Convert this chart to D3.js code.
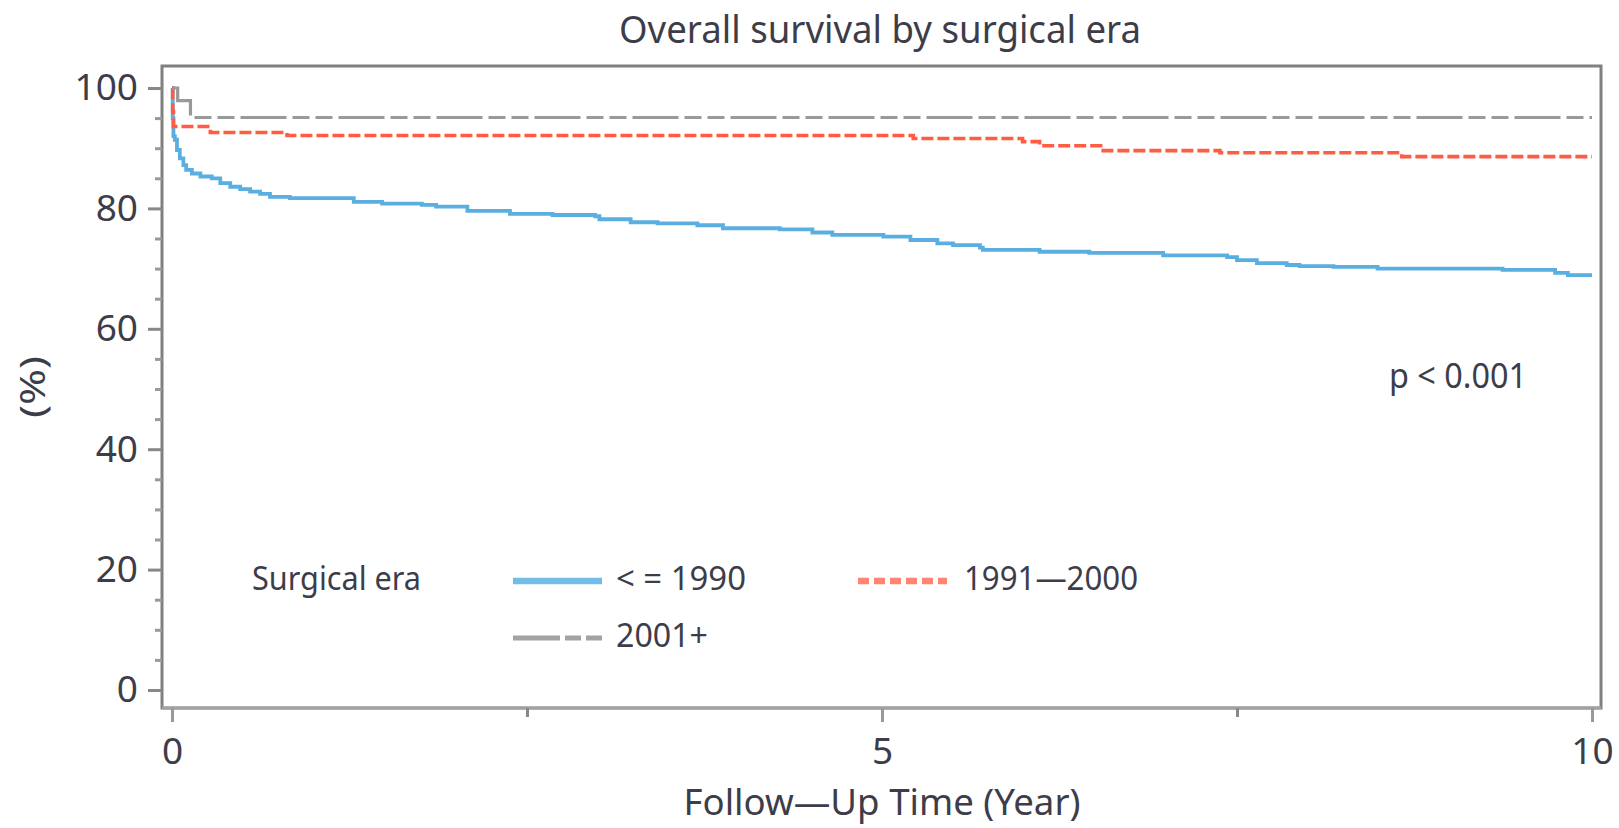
<!DOCTYPE html>
<html>
<head>
<meta charset="UTF-8">
<title>Overall survival by surgical era</title>
<script src="https://d3js.org/d3.v7.min.js"></script>
<style>
  body { margin: 0; background: #fff; }
  svg text { font-family: "Noto Sans", "Open Sans", sans-serif; fill: #3d3d4a; }
</style>
</head>
<body>
<svg id="chart" width="1619" height="828"></svg>
<script>
// survival steps (years, % alive)
const timeUpTo1990 = [0, 0.005, 0.01, 0.02, 0.035, 0.055, 0.08, 0.10, 0.14, 0.20, 0.28, 0.34, 0.41, 0.48, 0.55, 0.62, 0.69, 0.83, 1.28, 1.48, 1.76, 1.86, 2.08, 2.38, 2.68, 2.98, 3.01, 3.23, 3.42, 3.70, 3.88, 4.28, 4.51, 4.65, 5.01, 5.20, 5.39, 5.50, 5.69, 5.71, 6.11, 6.46, 6.98, 7.43, 7.50, 7.64, 7.85, 7.94, 8.18, 8.49, 9.37, 9.74, 9.83, 10];
const survUpTo1990 = [100, 95, 92, 91.4, 89.7, 88.3, 87.2, 86.4, 85.8, 85.3, 85.0, 84.2, 83.6, 83.2, 82.8, 82.4, 81.9, 81.7, 81.1, 80.8, 80.6, 80.3, 79.6, 79.1, 78.9, 78.7, 78.2, 77.7, 77.5, 77.2, 76.7, 76.5, 76.0, 75.6, 75.3, 74.75, 74.2, 73.9, 73.5, 73.1, 72.8, 72.6, 72.2, 71.9, 71.4, 70.9, 70.6, 70.4, 70.3, 70.0, 69.8, 69.3, 68.9, 68.9];

const time1991 = [0, 0.005, 0.01, 0.27, 0.81, 5.22, 5.99, 6.11, 6.54, 7.38, 8.66, 10];
const surv1991 = [100, 96.1, 93.6, 92.6, 92.1, 91.6, 91.1, 90.4, 89.6, 89.25, 88.6, 88.6];

const time2001 = [0, 0.04, 0.13, 10];
const surv2001 = [100, 97.9, 95.1, 95.1];

const yMajorTicks = [0, 20, 40, 60, 80, 100];
const yMinorTicks = [5, 10, 15, 25, 30, 35, 45, 50, 55, 65, 70, 75, 85, 90, 95];
const xMajorTicks = [0, 5, 10];
const xMinorTicks = [2.5, 7.5];
const legendLabels = ["< = 1990", "1991\u20142000", "2001+"];

const svg = d3.select("#chart");

// scales
const x = d3.scaleLinear().domain([0, 10]).range([172, 1592]);
const y = d3.scaleLinear().domain([0, 100]).range([690, 88]);

// plot frame
const frame = { left: 162, right: 1601, top: 66, bottom: 708 };
svg.append("rect")
    .attr("x", frame.left).attr("y", frame.top)
    .attr("width", frame.right - frame.left)
    .attr("height", frame.bottom - frame.top)
    .attr("fill", "none")
    .attr("stroke", "#808080")
    .attr("stroke-width", 3);
svg.append("line")
    .attr("x1", frame.left).attr("x2", frame.right)
    .attr("y1", frame.bottom).attr("y2", frame.bottom)
    .attr("stroke", "#a2a2a2").attr("stroke-width", 3);

// y axis
const yAxis = svg.append("g")
    .attr("transform", "translate(" + frame.left + ",0)")
    .call(d3.axisLeft(y).tickValues(yMajorTicks).tickSize(14).tickPadding(10));
yAxis.select(".domain").remove();
yAxis.selectAll("line").attr("stroke", "#888").attr("stroke-width", 3);
yAxis.selectAll("text").attr("font-size", 37).attr("fill", "#3d3d4a");

const yMinor = svg.append("g")
    .attr("transform", "translate(" + frame.left + ",0)")
    .call(d3.axisLeft(y).tickValues(yMinorTicks).tickSize(7).tickFormat(""));
yMinor.select(".domain").remove();
yMinor.selectAll("line").attr("stroke", "#999").attr("stroke-width", 3);

// x axis
const xAxis = svg.append("g")
    .attr("transform", "translate(0," + frame.bottom + ")")
    .call(d3.axisBottom(x).tickValues(xMajorTicks).tickSize(14).tickPadding(16));
xAxis.select(".domain").remove();
xAxis.selectAll("line").attr("stroke", "#999").attr("stroke-width", 3);
xAxis.selectAll("text").attr("font-size", 37).attr("fill", "#3d3d4a");

const xMinor = svg.append("g")
    .attr("transform", "translate(0," + frame.bottom + ")")
    .call(d3.axisBottom(x).tickValues(xMinorTicks).tickSize(9).tickFormat(""));
xMinor.select(".domain").remove();
xMinor.selectAll("line").attr("stroke", "#888").attr("stroke-width", 3);

// survival curves
const line = d3.line()
    .x(d => x(d[0]))
    .y(d => y(d[1]))
    .curve(d3.curveStepAfter);

const series = [
    { t: timeUpTo1990, s: survUpTo1990, color: "#5aafe0", width: 3.8, dash: null },
    { t: time1991, s: surv1991, color: "#ff5c42", width: 3.6, dash: "12,4" },
    { t: time2001, s: surv2001, color: "#999", width: 3.2, dash: "46,6,17,6,17,6" }
];

series.forEach(sr => {
    svg.append("path")
        .datum(d3.zip(sr.t, sr.s))
        .attr("fill", "none")
        .attr("stroke", sr.color)
        .attr("stroke-width", sr.width)
        .attr("stroke-dasharray", sr.dash)
        .attr("d", line);
});

// titles
svg.append("text")
    .attr("x", 880).attr("y", 43)
    .attr("text-anchor", "middle")
    .attr("font-size", 39)
    .attr("textLength", 522).attr("lengthAdjust", "spacingAndGlyphs")
    .text("Overall survival by surgical era");

svg.append("text")
    .attr("x", 882).attr("y", 815)
    .attr("text-anchor", "middle")
    .attr("font-size", 36)
    .attr("textLength", 397).attr("lengthAdjust", "spacingAndGlyphs")
    .text("Follow\u2014Up Time (Year)");

svg.append("text")
    .attr("transform", "translate(45,387) rotate(-90)")
    .attr("text-anchor", "middle")
    .attr("font-size", 34)
    .attr("textLength", 62).attr("lengthAdjust", "spacingAndGlyphs")
    .text("(%)");

svg.append("text")
    .attr("x", 1389).attr("y", 388)
    .attr("font-size", 34)
    .attr("textLength", 138).attr("lengthAdjust", "spacingAndGlyphs")
    .text("p < 0.001");

// legend
const legend = svg.append("g");
legend.append("text")
    .attr("x", 252).attr("y", 590)
    .attr("font-size", 32)
    .attr("textLength", 169).attr("lengthAdjust", "spacingAndGlyphs")
    .text("Surgical era");

const legendItems = [
    { label: legendLabels[0], lx: 513, ly: 581, tx: 616, ty: 590, tl: 130, color: "#72bde8", width: 6.5, dash: null },
    { label: legendLabels[1], lx: 858, ly: 581, tx: 964, ty: 590, tl: 174, color: "#ff8472", width: 6.5, dash: "11,5" },
    { label: legendLabels[2], lx: 513, ly: 638, tx: 616, ty: 647, tl: 92, color: "#a3a3a3", width: 5, dash: "47,5,16,5,16,5" }
];

legendItems.forEach(it => {
    legend.append("line")
        .attr("x1", it.lx).attr("x2", it.lx + 89)
        .attr("y1", it.ly).attr("y2", it.ly)
        .attr("stroke", it.color)
        .attr("stroke-width", it.width)
        .attr("stroke-dasharray", it.dash);
    legend.append("text")
        .attr("x", it.tx).attr("y", it.ty)
        .attr("font-size", 32)
        .attr("textLength", it.tl).attr("lengthAdjust", "spacingAndGlyphs")
        .text(it.label);
});
</script>
</body>
</html>
